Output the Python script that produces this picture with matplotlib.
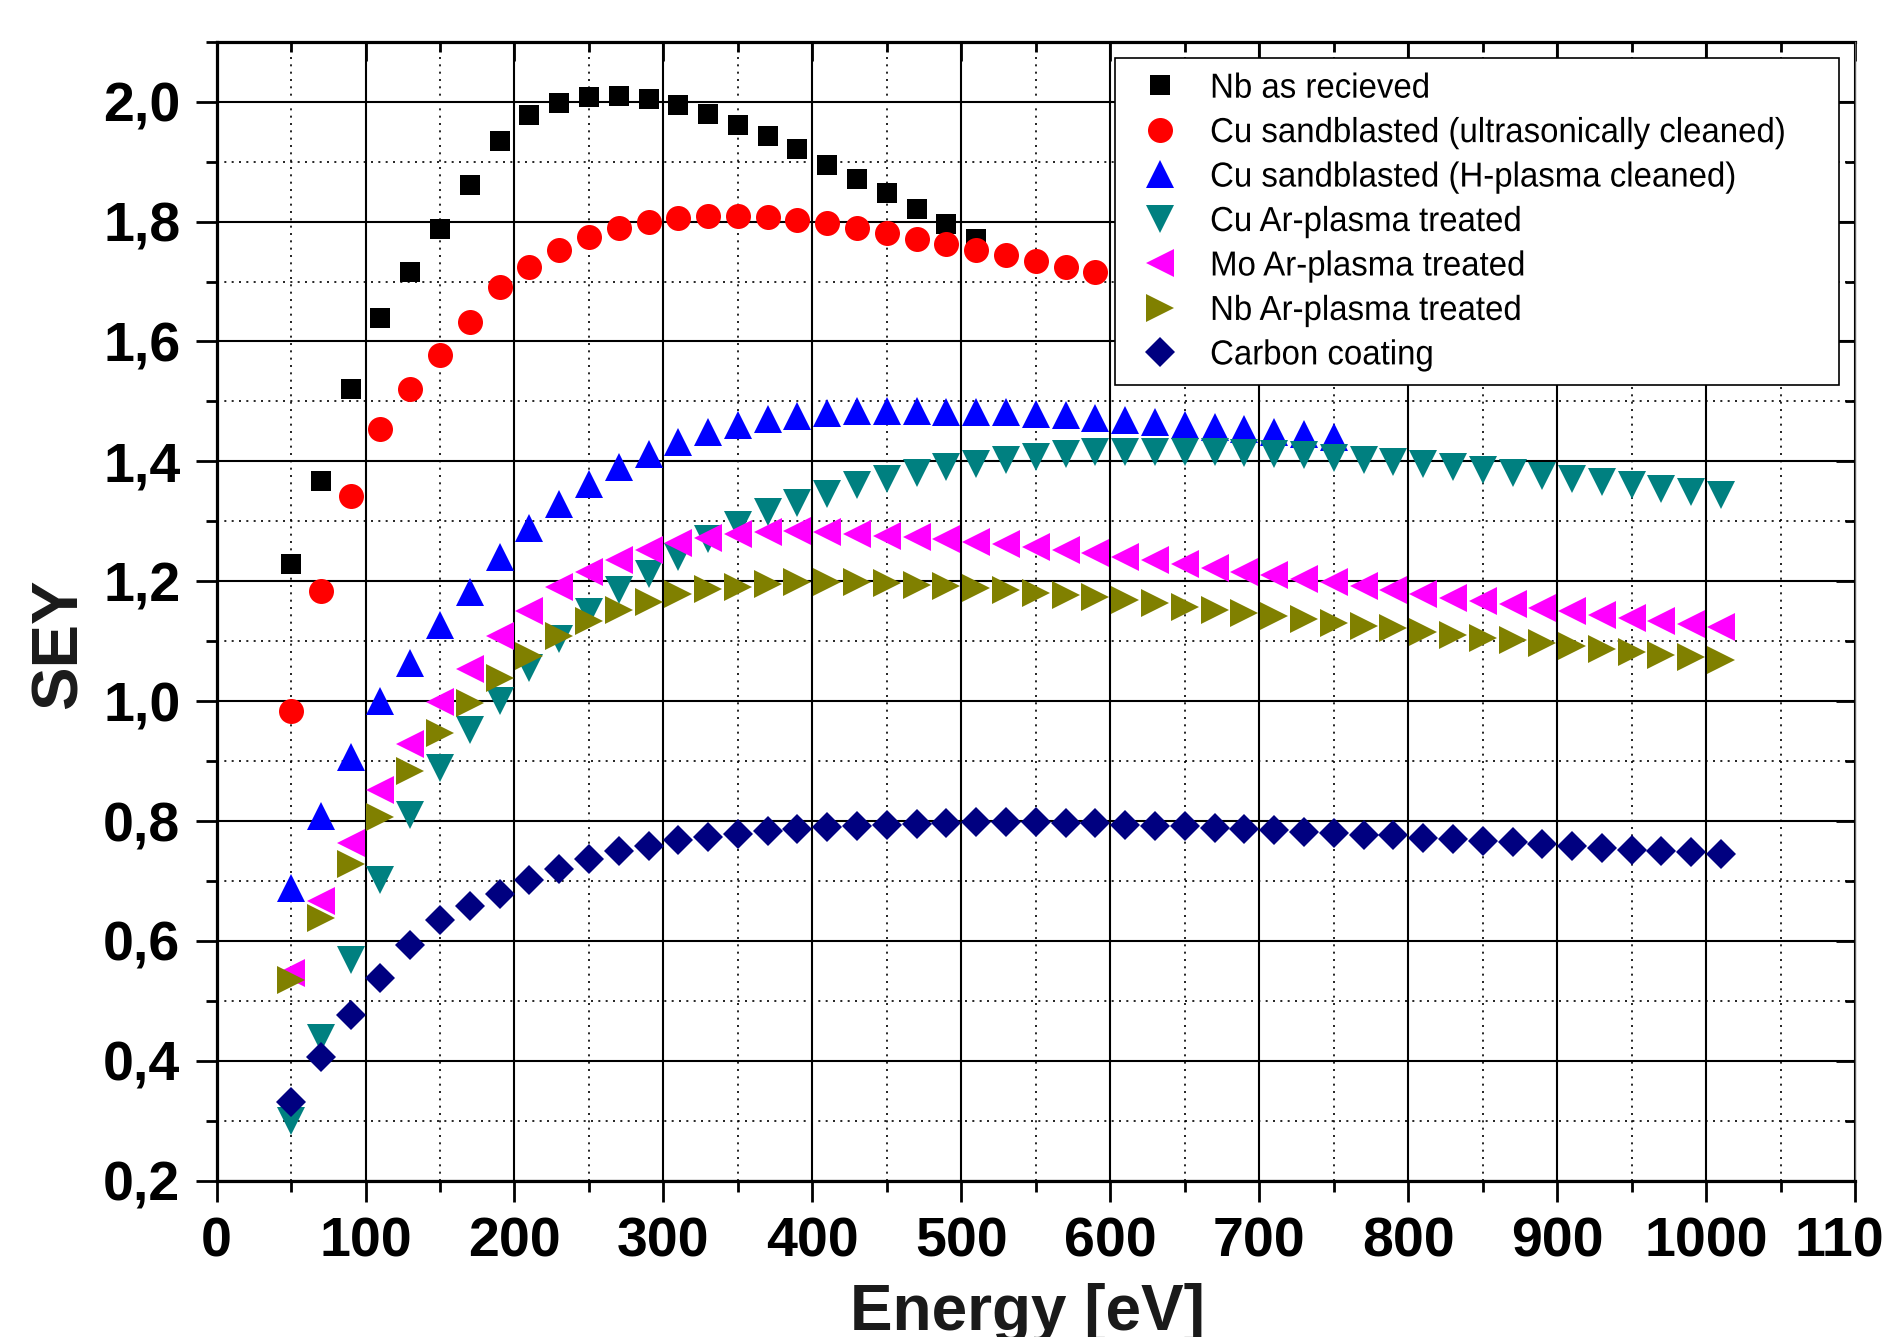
import numpy as np
import matplotlib
matplotlib.use("Agg")
import matplotlib.pyplot as plt
from matplotlib import patheffects
from matplotlib.ticker import MultipleLocator, FuncFormatter
from matplotlib.transforms import Affine2D

# Fonts
FONT = ["Liberation Sans", "DejaVu Sans"]
plt.rcParams["font.family"] = FONT
plt.rcParams["font.weight"] = "bold"

# Primary energies [eV]
energy = [50, 70, 90, 110, 130, 150, 170, 190, 210, 230, 250, 270, 290, 310,
          330, 350, 370, 390, 410, 430, 450, 470, 490, 510, 530, 550, 570, 590,
          610, 630, 650, 670, 690, 710, 730, 750, 770, 790, 810, 830, 850, 870,
          890, 910, 930, 950, 970, 990, 1010]

# SEY per sample
nb_received = [1.229, 1.368, 1.521, 1.639, 1.716, 1.788, 1.861, 1.935, 1.977,
               1.997, 2.007, 2.009, 2.005, 1.995, 1.980, 1.961, 1.942, 1.921,
               1.895, 1.871, 1.847, 1.821, 1.796, 1.771]
cu_ultrasonic = [0.984, 1.184, 1.343, 1.454, 1.521, 1.577, 1.632, 1.690, 1.725,
                 1.753, 1.775, 1.789, 1.800, 1.806, 1.809, 1.809, 1.808, 1.803,
                 1.797, 1.789, 1.781, 1.771, 1.763, 1.753, 1.744, 1.734, 1.725,
                 1.716]
cu_h_plasma = [0.689, 0.809, 0.906, 1.000, 1.064, 1.127, 1.182, 1.240, 1.288,
               1.329, 1.362, 1.390, 1.413, 1.433, 1.449, 1.461, 1.471, 1.476,
               1.481, 1.484, 1.484, 1.484, 1.483, 1.483, 1.482, 1.479, 1.477,
               1.473, 1.469, 1.465, 1.461, 1.458, 1.454, 1.449, 1.445, 1.440]
cu_ar = [0.300, 0.438, 0.568, 0.702, 0.810, 0.889, 0.952, 1.001, 1.055, 1.104,
         1.148, 1.185, 1.212, 1.241, 1.270, 1.293, 1.316, 1.331, 1.346, 1.360,
         1.371, 1.381, 1.390, 1.396, 1.403, 1.408, 1.412, 1.415, 1.416, 1.416,
         1.416, 1.416, 1.414, 1.412, 1.410, 1.406, 1.403, 1.399, 1.395, 1.391,
         1.386, 1.381, 1.376, 1.371, 1.365, 1.360, 1.354, 1.349, 1.344]
mo_ar = [0.547, 0.667, 0.763, 0.851, 0.929, 0.998, 1.054, 1.108, 1.151, 1.190,
         1.215, 1.235, 1.252, 1.264, 1.272, 1.278, 1.282, 1.283, 1.282, 1.279,
         1.276, 1.274, 1.271, 1.266, 1.262, 1.257, 1.252, 1.247, 1.241, 1.235,
         1.228, 1.222, 1.216, 1.210, 1.204, 1.198, 1.192, 1.186, 1.179, 1.172,
         1.167, 1.162, 1.156, 1.150, 1.144, 1.138, 1.133, 1.128, 1.123]
nb_ar = [0.534, 0.638, 0.729, 0.807, 0.883, 0.947, 0.997, 1.039, 1.075, 1.108,
         1.133, 1.152, 1.166, 1.178, 1.187, 1.191, 1.195, 1.198, 1.199, 1.198,
         1.197, 1.194, 1.192, 1.189, 1.185, 1.181, 1.177, 1.173, 1.168, 1.163,
         1.157, 1.152, 1.147, 1.142, 1.137, 1.131, 1.126, 1.122, 1.116, 1.111,
         1.106, 1.102, 1.097, 1.092, 1.087, 1.082, 1.077, 1.073, 1.069]
carbon = [0.332, 0.406, 0.476, 0.538, 0.593, 0.635, 0.659, 0.678, 0.701, 0.720,
          0.737, 0.750, 0.759, 0.768, 0.773, 0.779, 0.783, 0.787, 0.790, 0.792,
          0.794, 0.795, 0.796, 0.798, 0.798, 0.798, 0.797, 0.796, 0.793, 0.792,
          0.791, 0.789, 0.787, 0.785, 0.782, 0.780, 0.777, 0.776, 0.772, 0.770,
          0.767, 0.765, 0.762, 0.759, 0.755, 0.752, 0.750, 0.748, 0.745]

labels = ["Nb as recieved",
          "Cu sandblasted (ultrasonically cleaned)",
          "Cu sandblasted (H-plasma cleaned)",
          "Cu Ar-plasma treated",
          "Mo Ar-plasma treated",
          "Nb Ar-plasma treated",
          "Carbon coating"]
series = [nb_received, cu_ultrasonic, cu_h_plasma, cu_ar, mo_ar, nb_ar, carbon]
markers = ["s", "o", "^", "v", "<", ">", "D"]
sizes = [15, 18, 19.5, 19.5, 19.5, 19.5, 15.5]
colors = ["#000000", "#FF0000", "#0000FF", "#008080", "#FF00FF", "#808000",
          "#000080"]


class Condensed(patheffects.AbstractPathEffect):
    """Squeeze glyphs horizontally around the text origin (narrow face)."""

    def __init__(self, sx=0.95):
        super().__init__()
        self._sx = sx

    def draw_path(self, renderer, gc, tpath, affine, rgbFace=None):
        squeeze = Affine2D().scale(self._sx, 1.0)
        renderer.draw_path(gc, tpath, squeeze + affine, rgbFace)


def comma_fmt(v, _pos):
    return f"{v:.1f}".replace(".", ",")


def main():
    fig = plt.figure(figsize=(18.83, 13.37), dpi=100)
    ax = fig.add_axes([0.115, 0.1169, 0.8702, 0.8519])

    for vals, lab, m, ms, c in zip(series, labels, markers, sizes, colors):
        ax.plot(energy[:len(vals)], vals, linestyle="none", marker=m,
                markersize=ms, color=c, markeredgewidth=0, label=lab)

    ax.set_xlim(0, 1100)
    ax.set_ylim(0.2, 2.1)
    ax.xaxis.set_major_locator(MultipleLocator(100))
    ax.xaxis.set_minor_locator(MultipleLocator(50))
    ax.yaxis.set_major_locator(MultipleLocator(0.2))
    ax.yaxis.set_minor_locator(MultipleLocator(0.1))
    ax.yaxis.set_major_formatter(FuncFormatter(comma_fmt))

    ax.set_axisbelow(True)
    ax.grid(which="major", color="black", linewidth=1.5, linestyle="-")
    ax.grid(which="minor", color="black", linewidth=1.2,
            linestyle=(0, (1.2, 3.2)))
    for tick in ax.yaxis.get_major_ticks():
        if abs(tick.get_loc() - 2.0) < 1e-6:
            tick.gridline.set_color("#707070")
            tick.gridline.set_linewidth(1.0)

    ax.tick_params(which="both", direction="out", width=2, labelsize=40,
                   pad=11, top=False, right=False, colors="black")
    ax.tick_params(which="major", length=15)
    ax.tick_params(which="minor", length=8)

    # inward ticks on top and right
    top = ax.secondary_xaxis("top")
    top.xaxis.set_major_locator(MultipleLocator(100))
    top.xaxis.set_minor_locator(MultipleLocator(50))
    top.tick_params(which="both", direction="in", width=2, labeltop=False)
    top.tick_params(which="major", length=14)
    top.tick_params(which="minor", length=7)
    top.spines["top"].set_linewidth(2.3)

    right = ax.secondary_yaxis("right")
    right.yaxis.set_major_locator(MultipleLocator(0.2))
    right.yaxis.set_minor_locator(MultipleLocator(0.1))
    right.tick_params(which="both", direction="in", width=2, labelright=False)
    right.tick_params(which="major", length=14)
    right.tick_params(which="minor", length=7)
    right.spines["right"].set_linewidth(1.0)
    right.spines["right"].set_color("#606060")

    for side in ("left", "bottom"):
        ax.spines[side].set_linewidth(2.3)
    ax.spines["top"].set_visible(False)
    ax.spines["right"].set_visible(False)

    ax.set_xlabel("Energy [eV]", fontsize=46, fontweight="bold",
                  color="#1a1a1a")
    ax.set_ylabel("SEY", fontsize=47, fontweight="bold", color="#1a1a1a")
    ax.xaxis.set_label_coords(0.4947, -0.0898)
    ax.xaxis.label.set_verticalalignment("top")
    ax.yaxis.set_label_coords(-0.0772, 0.471)

    leg = ax.legend(loc="upper left",
                    bbox_to_anchor=(0.5921, 0.9568, 0.3845, 0),
                    bbox_transform=fig.transFigure, mode="expand",
                    numpoints=1, fancybox=False, framealpha=1,
                    borderpad=0.4, handlelength=1.79, handletextpad=0.55,
                    labelspacing=0.33, borderaxespad=0,
                    prop={"weight": "normal", "size": 25})
    leg.get_frame().set_edgecolor("black")
    leg.get_frame().set_linewidth(1.2)
    for txt in leg.get_texts():
        txt.set_path_effects([Condensed(0.95)])

    fig.savefig("out.png", dpi=100)


if __name__ == "__main__":
    main()
